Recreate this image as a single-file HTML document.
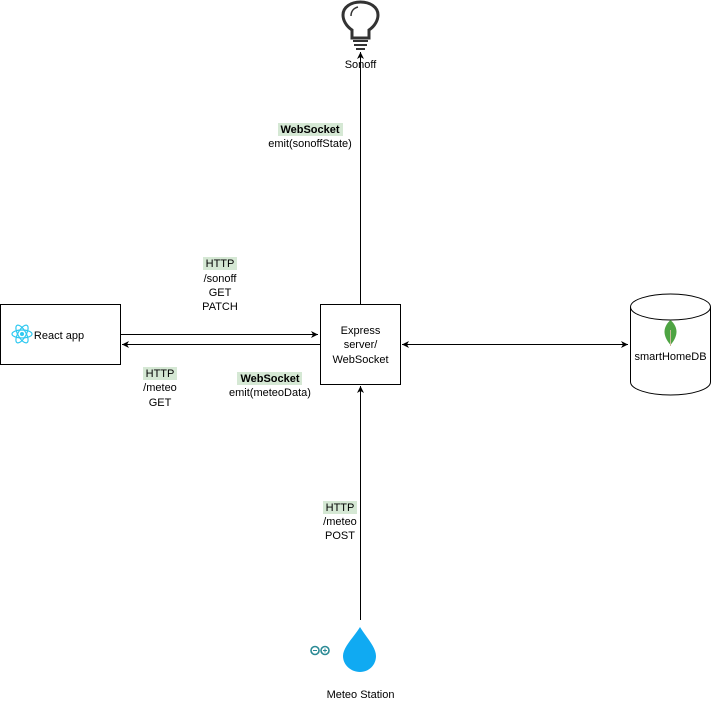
<!DOCTYPE html>
<html><head><meta charset="utf-8"><style>
html,body{margin:0;padding:0;background:#fff;}
svg{display:block;font-family:"Liberation Sans",Arial,sans-serif;font-size:11px;}
</style></head><body>
<svg width="711" height="702" viewBox="0 0 711 702" xmlns="http://www.w3.org/2000/svg">
<defs>
<marker id="a" markerWidth="8" markerHeight="8" refX="7" refY="4" orient="auto" markerUnits="userSpaceOnUse">
<path d="M0,0.5 L7,4 L0,7.5 L2,4 Z" fill="#000"/></marker>
<marker id="b" markerWidth="8" markerHeight="8" refX="1" refY="4" orient="auto" markerUnits="userSpaceOnUse">
<path d="M8,0.5 L1,4 L8,7.5 L6,4 Z" fill="#000"/></marker>
</defs>
<rect x="0.5" y="304.5" width="120" height="60" fill="#fff" stroke="#000"/>
<rect x="320.5" y="304.5" width="80" height="80" fill="#fff" stroke="#000"/>
<path d="M630.5,307 L630.5,382 A40,13 0 0 0 710.5,382 L710.5,307" fill="#fff" stroke="#000"/>
<ellipse cx="670.5" cy="307" rx="40" ry="13" fill="#fff" stroke="#000"/>
<line x1="120.5" y1="334.5" x2="318" y2="334.5" stroke="#000" marker-end="url(#a)"/>
<line x1="320" y1="344.5" x2="122" y2="344.5" stroke="#000" marker-end="url(#a)"/>
<line x1="402" y1="344.5" x2="628" y2="344.5" stroke="#000" marker-start="url(#b)" marker-end="url(#a)"/>
<line x1="360.5" y1="304" x2="360.5" y2="52" stroke="#000" marker-end="url(#a)"/>
<line x1="360.5" y1="620" x2="360.5" y2="386" stroke="#000" marker-end="url(#a)"/>
<path d="M352,38 L352,30 C346,26 343,20 343,15 C343,7 351,2 360.5,2 C370,2 378,7 378,15 C378,20 375,26 369,30 L369,38 Z" fill="none" stroke="#333" stroke-width="3"/>
<path d="M351,16 C351,11 354,8 358,7" fill="none" stroke="#333" stroke-width="1.5"/>
<line x1="353" y1="41" x2="368" y2="41" stroke="#333" stroke-width="2"/>
<line x1="354" y1="45" x2="367" y2="45" stroke="#333" stroke-width="2"/>
<line x1="356" y1="49" x2="365" y2="49" stroke="#333" stroke-width="2"/>
<path d="M360,627 C366,637 376,647 376,656 C376,665 369,672 360,672 C351,672 343,665 343,656 C343,647 354,637 360,627 Z" fill="#10aaf2"/>
<g fill="none" stroke="#2b8a95" stroke-width="1.6"><circle cx="315" cy="650.5" r="4"/><circle cx="325" cy="650.5" r="4"/></g>
<path d="M313,650.5h4M323,650.5h4M325,648.5v4" stroke="#2b8a95" stroke-width="1"/>
<g fill="none" stroke="#2ec8f0" stroke-width="1.2" transform="translate(22,334)">
<ellipse rx="10" ry="4"/><ellipse rx="10" ry="4" transform="rotate(60)"/><ellipse rx="10" ry="4" transform="rotate(120)"/></g>
<circle cx="22" cy="334" r="2" fill="#2ec8f0"/>
<path d="M670.5,320 C663,327 662,335 670.5,345 C679,335 678,327 670.5,320 Z" fill="#4ea443"/>
<line x1="670.5" y1="330" x2="670.5" y2="346" stroke="#c9b99a" stroke-width="1"/>
<g text-anchor="middle" fill="#000">
<text x="360.5" y="68">Sonoff</text>
<text x="360.5" y="334">Express</text>
<text x="360.5" y="348">server/</text>
<text x="360.5" y="363">WebSocket</text>
<text x="59" y="339">React app</text>
<text x="670.5" y="360">smartHomeDB</text>
<text x="360.5" y="698">Meteo Station</text>
</g>
<g text-anchor="middle">
<rect x="278" y="123" width="65" height="13" fill="#d5e8d4"/>
<text x="310" y="133" font-weight="bold">WebSocket</text>
<text x="310" y="147">emit(sonoffState)</text>
<rect x="203" y="257" width="34" height="13" fill="#d5e8d4"/>
<text x="220" y="267">HTTP</text>
<text x="220" y="282">/sonoff</text>
<text x="220" y="296">GET</text>
<text x="220" y="310">PATCH</text>
<rect x="143" y="367" width="34" height="13" fill="#d5e8d4"/>
<text x="160" y="377">HTTP</text>
<text x="160" y="391">/meteo</text>
<text x="160" y="406">GET</text>
<rect x="237" y="372" width="65" height="13" fill="#d5e8d4"/>
<text x="270" y="382" font-weight="bold">WebSocket</text>
<text x="270" y="396">emit(meteoData)</text>
<rect x="323" y="501" width="34" height="13" fill="#d5e8d4"/>
<text x="340" y="511">HTTP</text>
<text x="340" y="525">/meteo</text>
<text x="340" y="539">POST</text>
</g>
</svg>
</body></html>
